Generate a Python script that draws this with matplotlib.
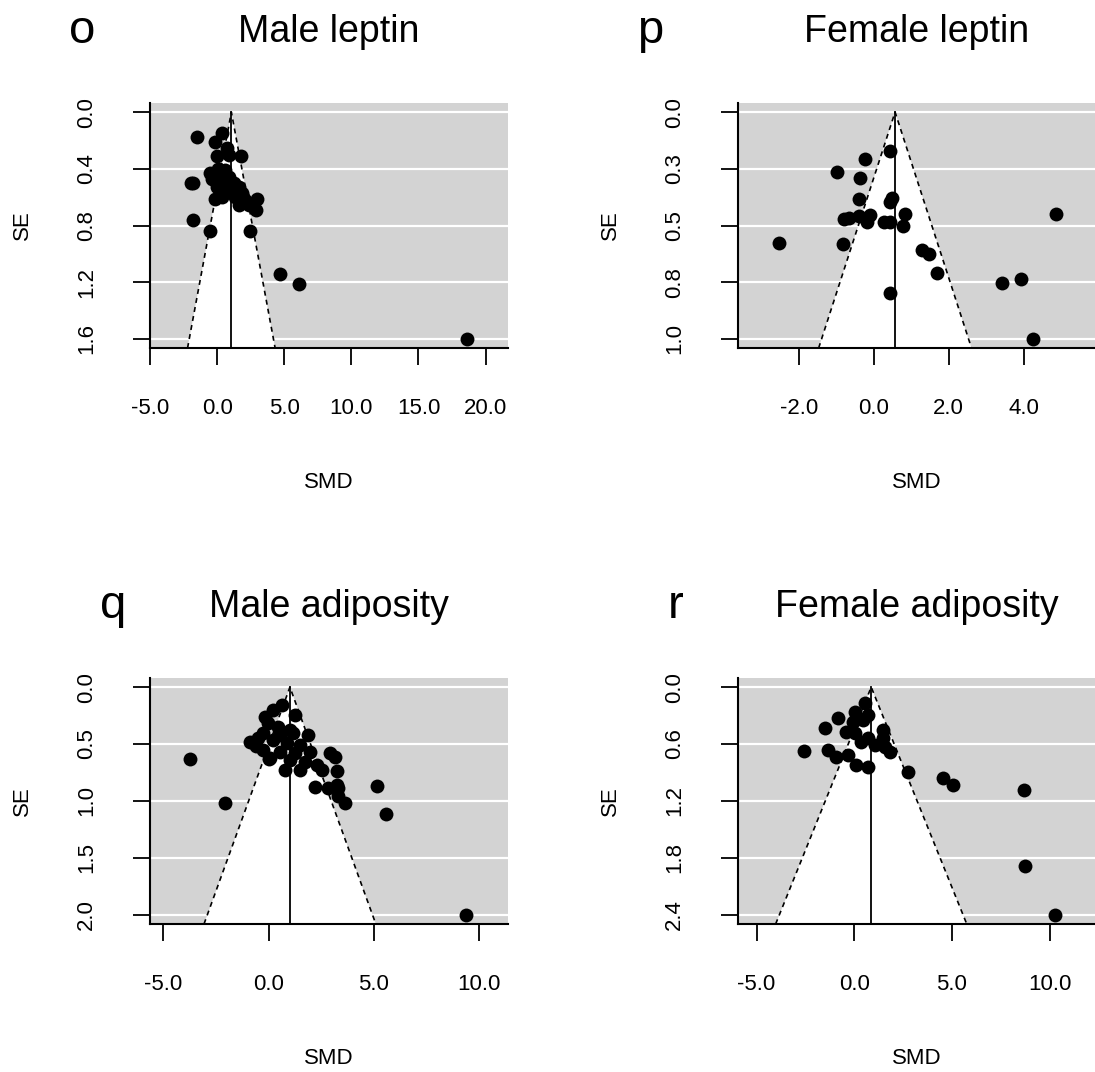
import matplotlib
matplotlib.use("Agg")
import matplotlib.pyplot as plt
import numpy as np

plt.rcParams['font.family'] = ['Liberation Sans', 'DejaVu Sans']

# Male leptin (panel o)
male_leptin_smd = [-1.49, 0.37, -0.13, 0.74, 0.0, 0.9, 1.8, -0.5, -0.37, 0.62, -0.13, 0.25,
                   0.87, 1.24, 0.0, 1.6, 1.86, 1.36, -0.13, 0.37, 2.1, 2.98, 2.92, 1.6, 2.35,
                   -1.92, -1.78, -1.79, -0.5, 2.43, 4.71, 6.12, 18.6, 0.5, 0.1, 1.0, 0.6, 1.9]
male_leptin_se = [0.174, 0.15, 0.21, 0.25, 0.31, 0.30, 0.31, 0.43, 0.47, 0.41, 0.455, 0.49,
                  0.455, 0.50, 0.525, 0.525, 0.57, 0.60, 0.61, 0.60, 0.62, 0.61, 0.69, 0.655, 0.655,
                  0.50, 0.50, 0.76, 0.84, 0.84, 1.14, 1.21, 1.60, 0.44, 0.40, 0.52, 0.55, 0.60]

# Female leptin (panel p)
female_leptin_smd = [0.44, -0.24, -0.99, -0.37, -0.39, 0.43, 0.50, 0.83, -0.80, -0.66, -0.39,
                     -0.09, -0.18, 0.27, 0.43, 0.77, -2.52, -0.83, 1.30, 1.48, 1.69, 0.44,
                     3.42, 3.94, 4.85, 4.25]
female_leptin_se = [0.171, 0.206, 0.266, 0.291, 0.382, 0.397, 0.38, 0.449, 0.471, 0.468, 0.456,
                    0.453, 0.485, 0.485, 0.483, 0.50, 0.575, 0.581, 0.61, 0.627, 0.71, 0.796,
                    0.754, 0.735, 0.449, 1.00]

# Male adiposity (panel q)
male_adip_smd = [0.62, 0.22, -0.18, 1.25, -0.02, 0.46, 1.01, -0.26, 1.88, -0.89, -0.49, 0.22,
                 0.85, 1.49, -0.26, 0.54, 1.25, 1.96, 2.91, 3.15, 0.06, 1.01, 1.72, 2.28, 0.77,
                 1.49, 2.52, 3.23, 2.2, 3.23, 1.17, 0.54, -0.6, -3.74, -2.07, 5.15, 5.57, 9.36,
                 3.30, 3.30, 3.62, 2.83, -0.65, 0.0]
male_adip_se = [0.156, 0.20, 0.26, 0.244, 0.317, 0.35, 0.376, 0.405, 0.42, 0.48, 0.45, 0.46,
                0.49, 0.51, 0.55, 0.57, 0.58, 0.57, 0.58, 0.61, 0.625, 0.64, 0.655, 0.684, 0.728,
                0.728, 0.728, 0.74, 0.875, 0.86, 0.405, 0.42, 0.52, 0.628, 1.016, 0.869, 1.11, 2.0,
                0.89, 0.96, 1.02, 0.89, 0.48, 0.63]

# Female adiposity (panel r)
female_adip_smd = [0.53, 0.70, 0.02, -0.83, -1.52, -0.07, -0.40, 0.02, 0.70, 1.47, 1.47, 1.04,
                   1.56, 1.81, -1.35, -0.92, -0.32, 0.11, 0.70, 0.36, 0.45, -2.59, 2.75, 4.54,
                   5.05, 8.67, 8.74, 10.28]
female_adip_se = [0.17, 0.29, 0.257, 0.33, 0.433, 0.363, 0.469, 0.486, 0.539, 0.451, 0.539, 0.609,
                  0.627, 0.68, 0.662, 0.733, 0.715, 0.82, 0.838, 0.574, 0.345, 0.673, 0.89, 0.96,
                  1.03, 1.085, 1.887, 2.40]

# pooled estimates (reference lines)
ref_smd = [1.06, 0.57, 1.01, 0.87]

titles = ["Male leptin", "Female leptin", "Male adiposity", "Female adiposity"]
letters = ["o", "p", "q", "r"]

x_ticks = [[-5, 0, 5, 10, 15, 20], [-2, 0, 2, 4], [-5, 0, 5, 10], [-5, 0, 5, 10]]
y_ticks = [[0, 0.4, 0.8, 1.2, 1.6], [0, 0.25, 0.5, 0.75, 1.0], [0, 0.5, 1.0, 1.5, 2.0],
           [0, 0.6, 1.2, 1.8, 2.4]]
y_tick_labels = [["0.0", "0.4", "0.8", "1.2", "1.6"], ["0.0", "0.3", "0.5", "0.8", "1.0"],
                 ["0.0", "0.5", "1.0", "1.5", "2.0"], ["0.0", "0.6", "1.2", "1.8", "2.4"]]
x_lims = [(-4.96, 21.67), (-3.62, 5.93), (-5.63, 11.36), (-5.95, 12.38)]

W, H = 1095, 1072
fig = plt.figure(figsize=(W / 100, H / 100), dpi=100)

# panel boxes in pixels: left, top, right, bottom
boxes = [(150, 103, 508, 348), (738, 103, 1096, 348), (150, 678, 508, 924), (738, 678, 1096, 924)]
letter_pos = [(82, 43), (650, 43), (113, 618), (676, 618)]

data = [(male_leptin_smd, male_leptin_se), (female_leptin_smd, female_leptin_se),
        (male_adip_smd, male_adip_se), (female_adip_smd, female_adip_se)]


def funnel_panel(ax, smd, se, ref, yt, ytl, xt, xlim):
    top = max(yt)
    ybot = top * 1.04
    ytop = -top * 0.04
    ax.set_facecolor('#D3D3D3')
    for t in yt:
        ax.axhline(t, color='white', lw=1.6, zorder=1)
    fx = [ref - 1.96 * ybot, ref, ref + 1.96 * ybot]
    fy = [ybot, 0, ybot]
    ax.fill(fx, fy, color='white', zorder=2, lw=0)
    ax.plot(fx, fy, color='black', lw=1.2, ls=(0, (3, 2.5)), zorder=3)
    ax.plot([ref, ref], [ybot, 0], color='black', lw=1.3, zorder=3)
    ax.scatter(smd, se, s=100, color='black', zorder=4, lw=0)
    ax.set_xlim(*xlim)
    ax.set_ylim(ybot, ytop)
    ax.set_xticks(xt)
    ax.set_xticklabels(["%.1f" % v for v in xt])
    ax.set_yticks(yt)
    ax.set_yticklabels(ytl, rotation=90, va='center')
    for s in ['top', 'right']:
        ax.spines[s].set_visible(False)
    for s in ['left', 'bottom']:
        ax.spines[s].set_linewidth(1.5)
    ax.tick_params(axis='both', length=12, width=1.3, labelsize=16)
    ax.tick_params(axis='x', pad=24)
    ax.tick_params(axis='y', pad=26)


for i in range(4):
    l, t, r, b = boxes[i]
    ax = fig.add_axes([l / W, 1 - b / H, (r - l) / W, (b - t) / H])
    funnel_panel(ax, data[i][0], data[i][1], ref_smd[i], y_ticks[i], y_tick_labels[i],
                 x_ticks[i], x_lims[i])
    cx = (l + r) / 2
    fig.text(cx / W, 1 - (t - 61) / H, titles[i], ha='center', va='baseline', fontsize=27)
    lx, ly = letter_pos[i]
    fig.text(lx / W, 1 - ly / H, letters[i], ha='center', va='baseline', fontsize=34)
    fig.text(cx / W, 1 - (b + 135) / H, "SMD", ha='center', va='center', fontsize=16)
    fig.text((l - 128) / W, 1 - ((t + b) / 2) / H, "SE", ha='center', va='center',
             rotation=90, fontsize=16)

fig.savefig("out.png", dpi=100)
